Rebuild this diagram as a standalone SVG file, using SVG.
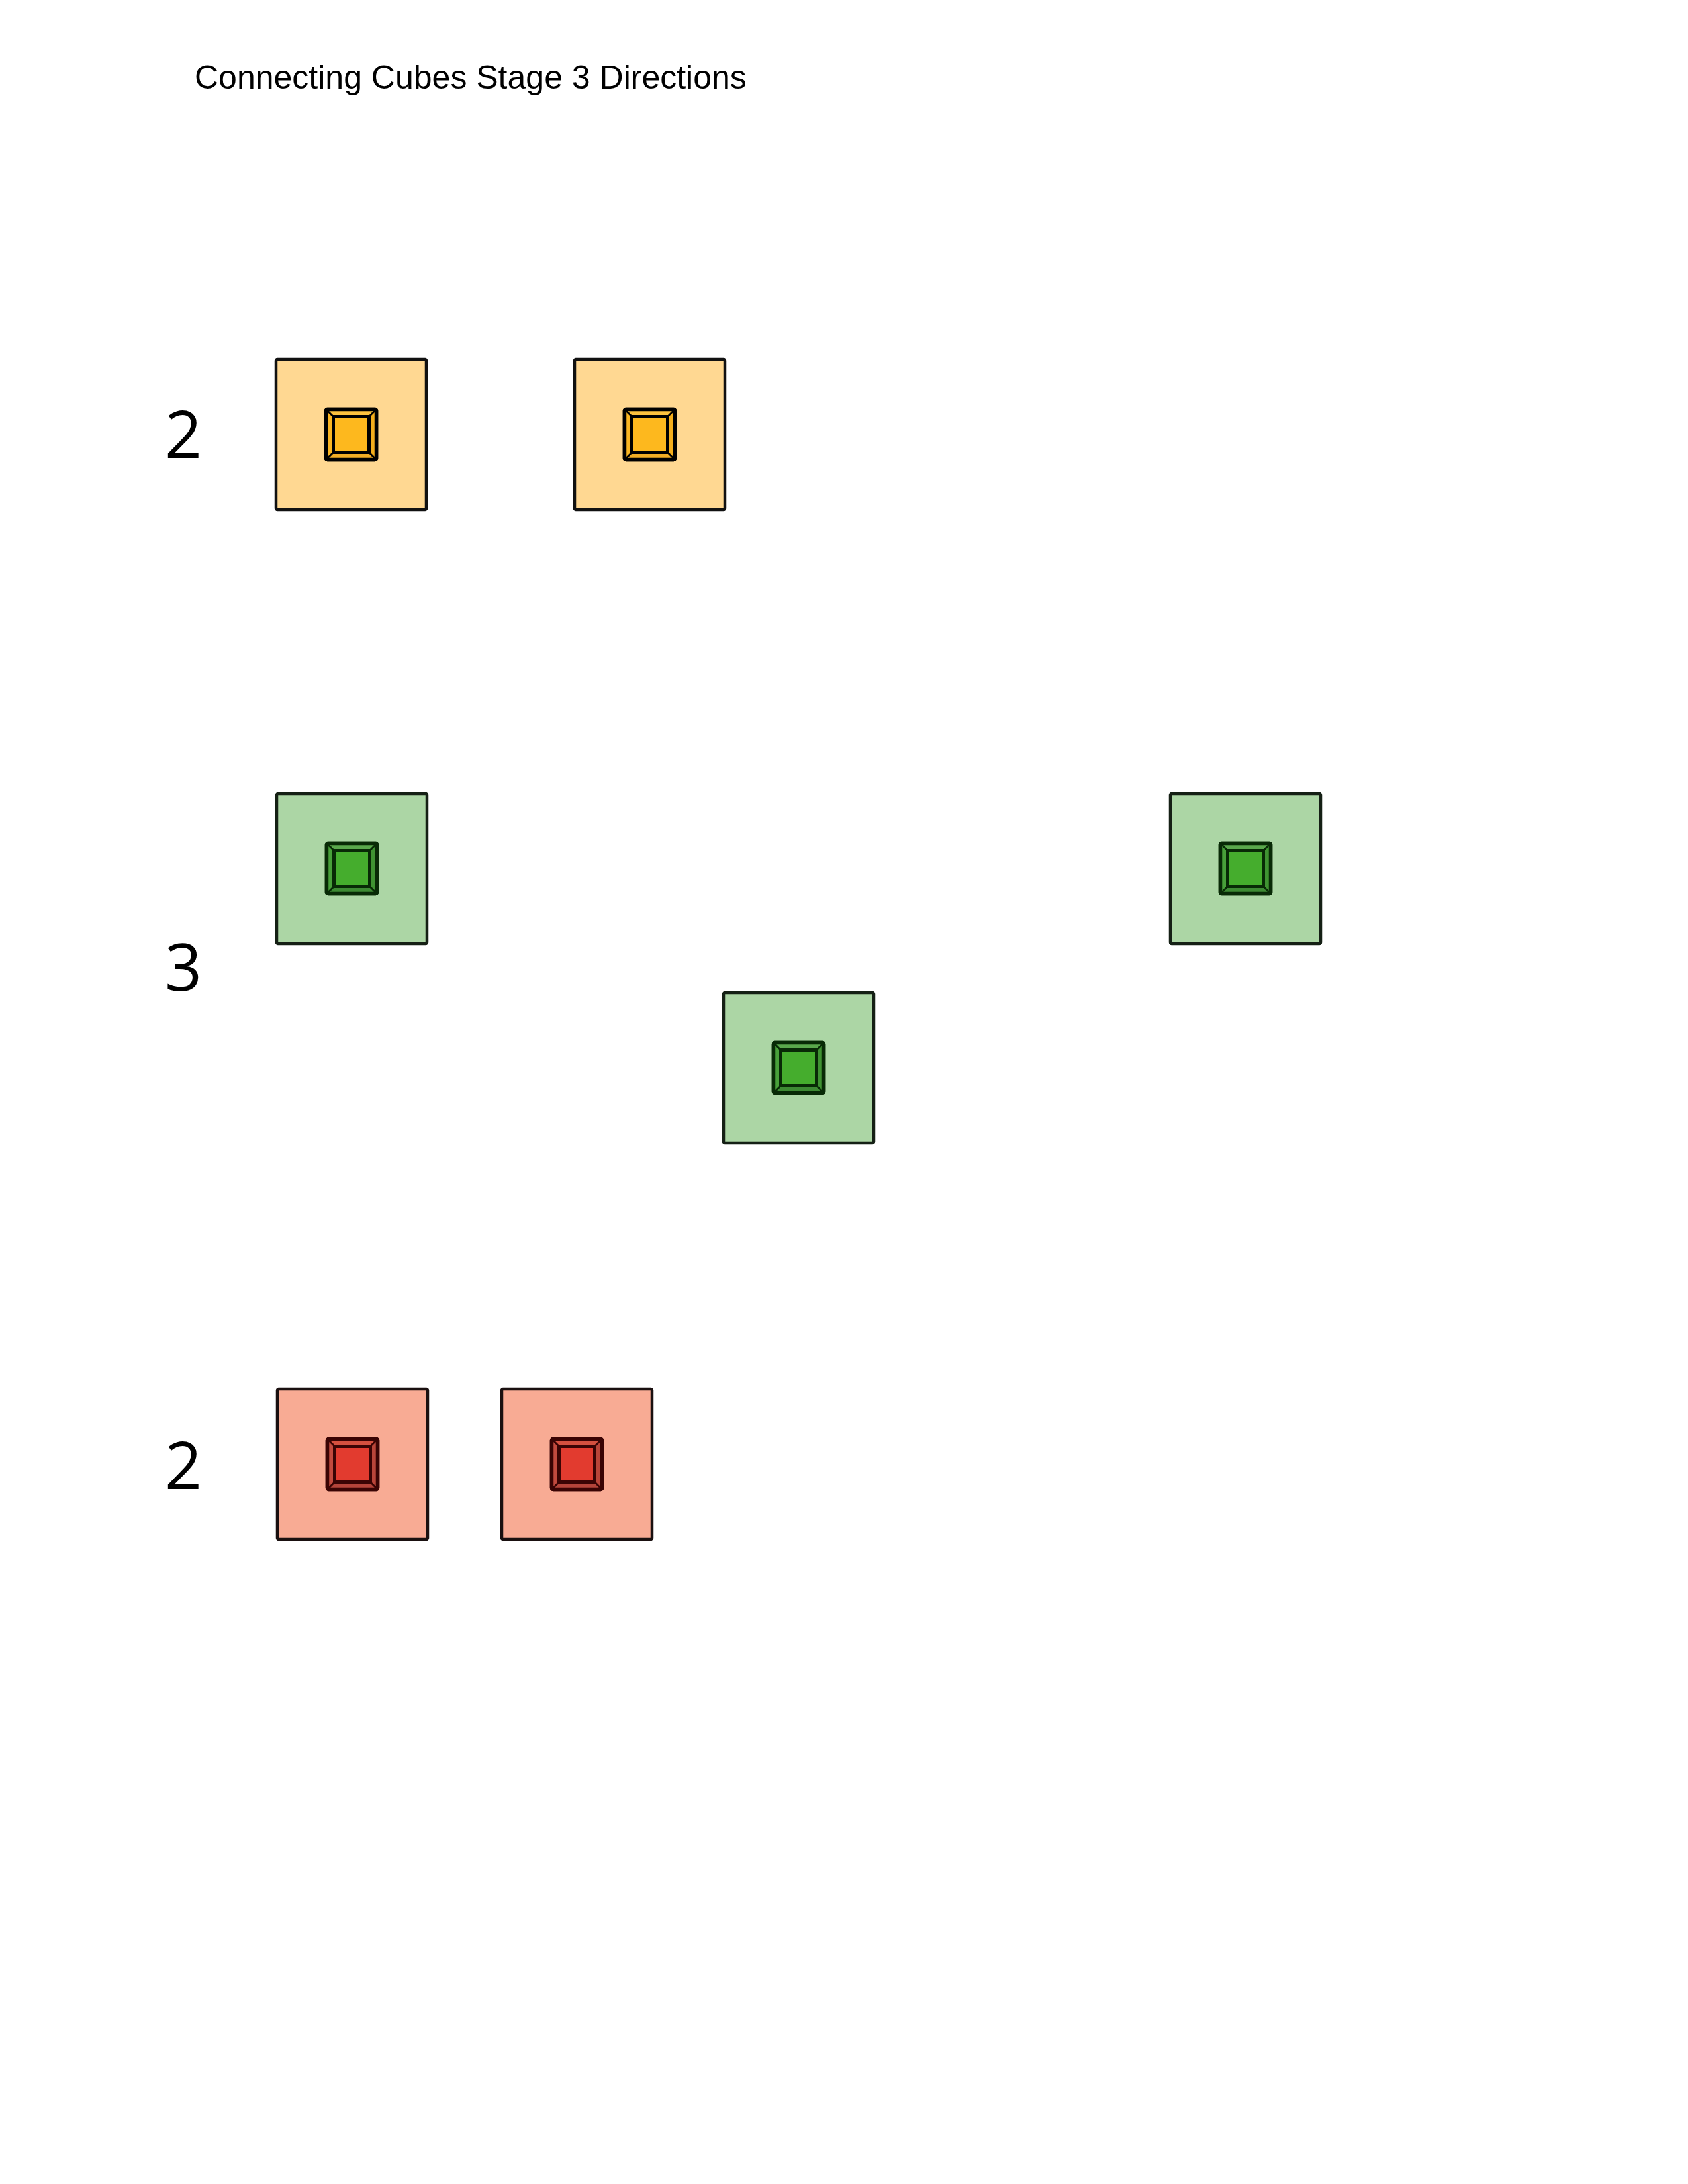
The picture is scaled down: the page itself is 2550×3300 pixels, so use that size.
<svg xmlns="http://www.w3.org/2000/svg" xmlns:xlink="http://www.w3.org/1999/xlink" width="2550" height="3300" viewBox="0 0 2550 3300">
<style>
.title{font-family:"Liberation Sans",Arial,sans-serif;font-size:50px;fill:#000}
.count{font-family:"Open Sans","Noto Sans",sans-serif;font-size:98px;fill:#000;text-anchor:middle}
.outer{stroke-width:4.5;stroke-linejoin:round}
.ring{stroke-width:5.5;stroke-linejoin:round}
.strip{stroke-width:2.5;stroke-linejoin:round}
.face{stroke-width:5;stroke-linejoin:round}
.edge{fill:none;stroke-width:5.5;stroke-linejoin:round}
.o .outer{fill:#ffd892;stroke:#111}
.o .ring{fill:#fbb520;stroke:#000}
.o .strip,.o .edge{stroke:#000}
.o .st{fill:#fdc23e}.o .sb{fill:#f2ad25}.o .sl{fill:#fab623}.o .sr{fill:#f4ae1c}
.o .face{fill:#fdb81e;stroke:#000}
.g .outer{fill:#acd6a5;stroke:#152015}
.g .ring{fill:#3f9b32;stroke:#082a06}
.g .strip,.g .edge{stroke:#082a06}
.g .st{fill:#5aa84c}.g .sb{fill:#3d8a33}.g .sl{fill:#48a03a}.g .sr{fill:#3f9332}
.g .face{fill:#45ad2d;stroke:#082a06}
.r .outer{fill:#f8ab94;stroke:#1a1010}
.r .ring{fill:#c8473b;stroke:#3a0404}
.r .strip,.r .edge{stroke:#3a0404}
.r .st{fill:#d4503f}.r .sb{fill:#b4443a}.r .sl{fill:#c24a3e}.r .sr{fill:#b94539}
.r .face{fill:#e23b2f;stroke:#3a0404}
</style>
<defs>
<g id="cube-o" class="o">
<rect class="outer" x="0" y="0" width="227" height="227" rx="2"/>
<rect class="ring" x="75.5" y="75.5" width="76" height="76" rx="2"/>
<polygon class="strip st" points="75.5,75.5 151.5,75.5 140.5,86.5 86.5,86.5"/>
<polygon class="strip sb" points="75.5,151.5 151.5,151.5 140.5,140.5 86.5,140.5"/>
<polygon class="strip sl" points="75.5,75.5 86.5,86.5 86.5,140.5 75.5,151.5"/>
<polygon class="strip sr" points="151.5,75.5 140.5,86.5 140.5,140.5 151.5,151.5"/>
<rect class="face" x="86.5" y="86.5" width="54" height="54"/>
<rect class="edge" x="75.5" y="75.5" width="76" height="76" rx="2"/>
</g>
<g id="cube-g" class="g">
<rect class="outer" x="0" y="0" width="227" height="227" rx="2"/>
<rect class="ring" x="75.5" y="75.5" width="76" height="76" rx="2"/>
<polygon class="strip st" points="75.5,75.5 151.5,75.5 140.5,86.5 86.5,86.5"/>
<polygon class="strip sb" points="75.5,151.5 151.5,151.5 140.5,140.5 86.5,140.5"/>
<polygon class="strip sl" points="75.5,75.5 86.5,86.5 86.5,140.5 75.5,151.5"/>
<polygon class="strip sr" points="151.5,75.5 140.5,86.5 140.5,140.5 151.5,151.5"/>
<rect class="face" x="86.5" y="86.5" width="54" height="54"/>
<rect class="edge" x="75.5" y="75.5" width="76" height="76" rx="2"/>
</g>
<g id="cube-r" class="r">
<rect class="outer" x="0" y="0" width="227" height="227" rx="2"/>
<rect class="ring" x="75.5" y="75.5" width="76" height="76" rx="2"/>
<polygon class="strip st" points="75.5,75.5 151.5,75.5 140.5,86.5 86.5,86.5"/>
<polygon class="strip sb" points="75.5,151.5 151.5,151.5 140.5,140.5 86.5,140.5"/>
<polygon class="strip sl" points="75.5,75.5 86.5,86.5 86.5,140.5 75.5,151.5"/>
<polygon class="strip sr" points="151.5,75.5 140.5,86.5 140.5,140.5 151.5,151.5"/>
<rect class="face" x="86.5" y="86.5" width="54" height="54"/>
<rect class="edge" x="75.5" y="75.5" width="76" height="76" rx="2"/>
</g>
</defs>
<rect x="0" y="0" width="2550" height="3300" fill="#ffffff"/>
<text class="title" x="294" y="134">Connecting Cubes Stage 3 Directions</text>
<g id="label-orange"><text class="count" x="277" y="692">2</text></g>
<g id="label-green"><text class="count" x="277" y="1497">3</text></g>
<g id="label-red"><text class="count" x="277" y="2250">2</text></g>
<g id="connectors"></g>
<g id="orange-1" transform="translate(417,543)"><use href="#cube-o" xlink:href="#cube-o"/></g>
<g id="orange-2" transform="translate(868,543)"><use href="#cube-o" xlink:href="#cube-o"/></g>
<g id="green-1" transform="translate(418,1199)"><use href="#cube-g" xlink:href="#cube-g"/></g>
<g id="green-2" transform="translate(1093,1500)"><use href="#cube-g" xlink:href="#cube-g"/></g>
<g id="green-3" transform="translate(1768,1199)"><use href="#cube-g" xlink:href="#cube-g"/></g>
<g id="red-1" transform="translate(419,2099)"><use href="#cube-r" xlink:href="#cube-r"/></g>
<g id="red-2" transform="translate(758,2099)"><use href="#cube-r" xlink:href="#cube-r"/></g>
</svg>
